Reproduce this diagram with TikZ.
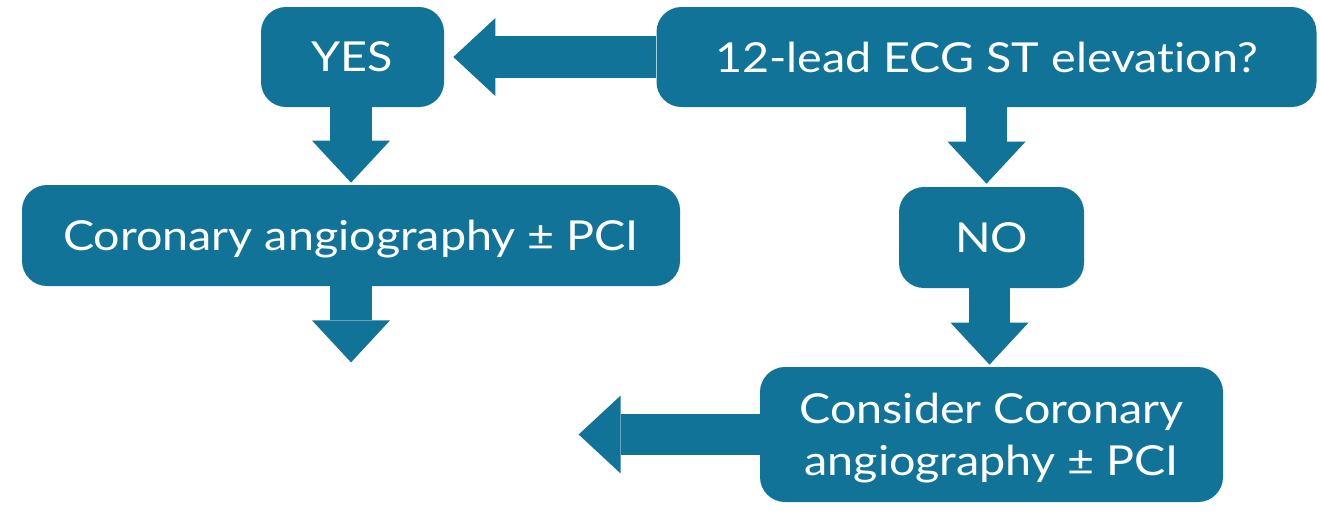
\documentclass[tikz,border=0pt]{standalone}
\usepackage{fontspec}
\setmainfont{Lato}[FakeStretch=1.13,Ligatures=NoCommon]
\usepackage{xcolor}
\usepackage{tikz}
\usetikzlibrary{positioning,arrows.meta,calc}
\definecolor{ecgteal}{RGB}{18,115,153}

\begin{document}
\begin{tikzpicture}[
    font=\fontsize{23.5}{29.6}\selectfont,
    box/.style={
        fill=ecgteal,
        text=white,
        rounded corners=5mm,
        minimum height=2.0cm,
        align=center,
        text depth=-0.16cm,
        inner sep=0pt
    },
    blk/.style={
        ecgteal,
        line width=0.83cm,
        -{Triangle[length=0.84cm 0,width=1.56cm 0,line width=0pt 0]}
    }
]
\useasboundingbox (0,0) rectangle (26.42,-10.38);

\node[box, minimum width=3.66cm] (yes) at (7.05,-1.14) {YES};

\node[box, minimum width=13.2cm] (ecg) at (19.73,-1.14)
{12-lead ECG ST elevation?};

\node[box, minimum width=13.16cm, minimum height=2.02cm] (cor) at (7.02,-4.71)
{Coronary angiography ± PCI};

\node[box, minimum width=3.7cm, minimum height=2.02cm] (no) at (19.83,-4.75)
{NO};

\node[box, minimum width=9.26cm, minimum height=2.7cm] (cons) at (19.83,-8.69)
{Consider Coronary\\ angiography ± PCI};

% free ends
\coordinate (corend) at ($(cor.south)+(0,-1.52)$);
\coordinate (consend) at ($(cons.west)+(-3.62,0)$);

\draw[blk, shorten >=0.18cm] (ecg.west) -- (yes.east);
\draw[blk, shorten >=0.04cm] (yes.south -| cor.north) -- (cor.north);
\draw[blk] (cor.south) -- (corend);
\draw[blk, shorten >=0.06cm] (ecg.south) -- (ecg.south |- no.north);
\draw[blk, shorten >=0.04cm] (no.south -| 19.79,0) -- (cons.north -| 19.79,0);
\draw[blk] (cons.west) -- (consend);

\end{tikzpicture}
\end{document}
